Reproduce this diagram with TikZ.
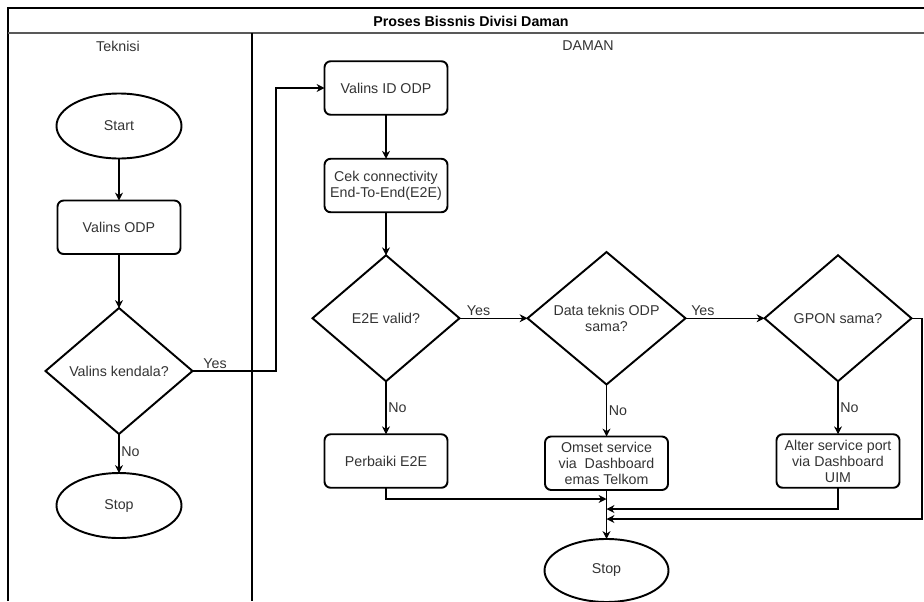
\documentclass[tikz,border=0pt]{standalone}
\usepackage{fontspec}
\setmainfont{Liberation Sans}
\usetikzlibrary{positioning,shapes.geometric,arrows.meta}
\tikzset{
	lbl/.style={font=\fontsize{8.1pt}{9.1pt}\selectfont,text=black!80},
	proses/.style={lbl,draw=black,line width=1.1pt,outer sep=0pt,rounded corners=3.5pt,align=center,inner sep=1pt,minimum width=2.46cm,minimum height=1.07cm},
	ujung/.style={lbl,ellipse,draw=black,line width=1.1pt,outer sep=0pt,minimum width=2.5cm,minimum height=1.3cm},
	keputusan/.style={lbl,diamond,draw=black,line width=1.1pt,outer sep=0pt,align=center,inner sep=0pt,minimum width=2.94cm,minimum height=2.52cm},
	alur/.style={line width=0.6pt,-{Stealth[length=4.5pt,width=4.5pt]}},
	ket/.style={lbl,inner sep=1pt}
}
\begin{document}
\begin{tikzpicture}[x=0.2mm,y=-0.2mm]
		\useasboundingbox (0,0) rectangle (924,601);
		\begin{scope}
			\draw[line width=0.6pt] (8,601) -- (8,8) -- (924,8);
			\draw[line width=1.1pt,black!65] (8,33) -- (924,33);
			\draw[line width=0.6pt] (252,33) -- (252,601);
			\node(judul) at (471,21) [lbl,text=black,font=\fontsize{8.1pt}{9.1pt}\selectfont\bfseries] {Proses Bissnis Divisi Daman};
			\node(lajur1) at (118,46) [lbl] {Teknisi};
			\node(lajur2) at (588,46) [lbl] {DAMAN};
		\end{scope}
		\begin{scope}
			\node(1) at (119,126) [ujung] {Start};
			\node(2) [proses,below=0.84cm of 1] {Valins ODP};
			\node(3) [keputusan,below=1.08cm of 2] {Valins kendala?};
			\node(4) [ujung,below=0.78cm of 3] {Stop};
		\end{scope}
		\begin{scope}
			\node(5) at (386,88) [proses] {Valins ID ODP};
			\node(6) [proses,below=0.88cm of 5] {Cek connectivity\\End-To-End(E2E)};
			\node(7) [keputusan,below=0.86cm of 6] {E2E valid?};
			\node(8) [keputusan,right=1.36cm of 7,minimum width=3.16cm,minimum height=2.56cm] {Data teknis ODP\\sama?};
			\node(9) [keputusan,right=1.58cm of 8] {GPON sama?};
			\node(10) [proses,below=1.06cm of 7] {Perbaiki E2E};
			\node(11) [proses,below=1.04cm of 8] {Omset service\\via\ \ Dashboard\\emas Telkom};
			\node(12) [proses,below=1.06cm of 9] {Alter service port\\via Dashboard\\UIM};
			\node(13) [ujung,below=0.98cm of 11,minimum width=2.48cm,minimum height=1.26cm] {Stop};
		\end{scope}
		\coordinate(a) at (276,0);
		\coordinate(c) at (922,0);
		\coordinate(b1) at (0,499);
		\coordinate(b2) at (0,509);
		\coordinate(b3) at (0,519);
		\path[alur]
			(1) edge (2)
			(2) edge (3)
			(3) edge node[ket,right,pos=0.45] {No} (4)
			(5) edge (6)
			(6) edge (7)
			(7) edge node[ket,above,pos=0.28] {Yes} (8)
			(8) edge node[ket,above,pos=0.22] {Yes} (9)
			(7) edge node[ket,right] {No} (10)
			(8) edge node[ket,right] {No} (11)
			(9) edge node[ket,right] {No} (12)
			(11) edge (13);
		\draw[alur] (3.east) -- node[ket,above,pos=0.27] {Yes} (3.east -| a) |- (5.west);
		\draw[alur] (10.south) |- (13.north |- b1);
		\draw[alur] (12.south) |- (13.north |- b2);
		\draw[alur] (9.east) -- (9.east -| c) |- (13.north |- b3);
	\end{tikzpicture}
\end{document}
